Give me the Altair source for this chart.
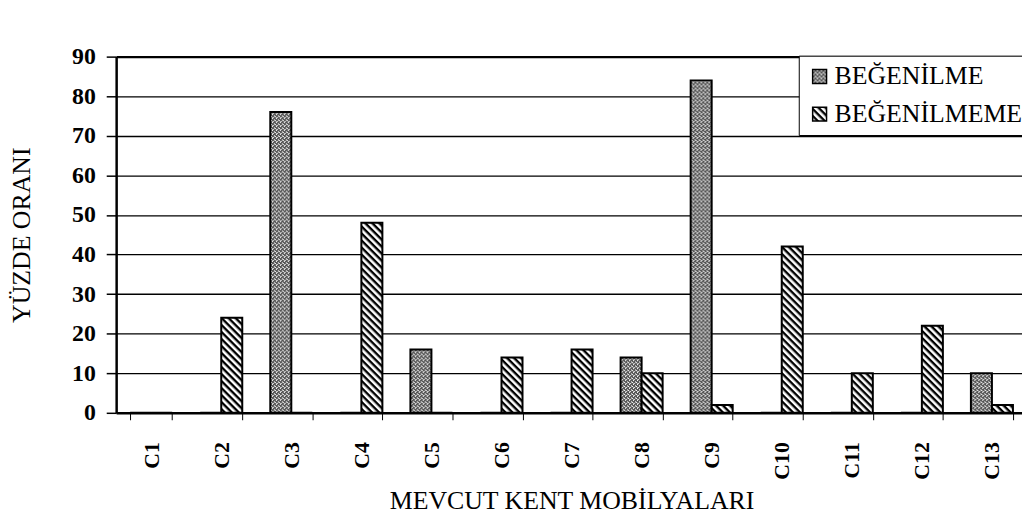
import altair as alt
import pandas as pd
import jinja2

try:
    from altair.utils.html import TEMPLATES as _TEMPLATES
    _BASE = _TEMPLATES["standard"]
except Exception:  # pragma: no cover
    from altair.utils.html import HTML_TEMPLATE as _BASE

# ---- data ----
categories = ["C1", "C2", "C3", "C4", "C5", "C6", "C7", "C8", "C9", "C10", "C11", "C12", "C13"]
begenilme = [0, 0, 76, 0, 16, 0, 0, 14, 84, 0, 0, 0, 10]
begenilmeme = [0, 24, 0, 48, 0, 14, 16, 10, 2, 42, 10, 22, 2]
series = ["BEĞENİLME", "BEĞENİLMEME"]
y_ticks = [0, 10, 20, 30, 40, 50, 60, 70, 80, 90]

rows = []
for c, a, b in zip(categories, begenilme, begenilmeme):
    rows.append({"kategori": c, "seri": series[0], "oran": a})
    rows.append({"kategori": c, "seri": series[1], "oran": b})
df = pd.DataFrame(rows)

FONT = "Liberation Serif"

chart = (
    alt.Chart(df)
    .mark_bar(stroke="black", strokeWidth=2)
    .encode(
        x=alt.X(
            "kategori:N",
            sort=categories,
            title="MEVCUT KENT MOBİLYALARI",
            scale=alt.Scale(paddingInner=0.4, paddingOuter=0.2, range=[0, 918]),
            axis=alt.Axis(
                labelAngle=-90,
                tickBand="extent",
                tickSize=7,
                tickWidth=1,
                tickColor="black",
                labelPadding=22,
                labelFont=FONT,
                labelFontSize=22,
                labelFontWeight="bold",
                labelColor="black",
                domainColor="black",
                domainWidth=2.5,
                titleFont=FONT,
                titleFontSize=26,
                titleFontWeight="normal",
                titleColor="black",
                titleBaseline="alphabetic",
                titlePadding=30,
                grid=False,
            ),
        ),
        xOffset=alt.XOffset("seri:N", sort=series),
        y=alt.Y(
            "oran:Q",
            title="YÜZDE ORANI",
            scale=alt.Scale(domain=[0, 90], nice=False),
            axis=alt.Axis(
                values=y_ticks,
                tickSize=10,
                tickWidth=1.5,
                tickColor="black",
                labelPadding=11,
                labelFont=FONT,
                labelFontSize=24,
                labelFontWeight="bold",
                labelColor="black",
                domainColor="black",
                domainWidth=2.5,
                grid=True,
                gridColor="black",
                gridWidth={"condition": {"test": "datum.value === 90", "value": 2.5}, "value": 1.3},
                titleFont=FONT,
                titleFontSize=26,
                titleFontWeight="normal",
                titleColor="black",
                titlePadding=37,
            ),
        ),
        fill=alt.Fill(
            "seri:N",
            sort=series,
            scale=alt.Scale(domain=series, range=["url(#stipple)", "url(#hatch)"]),
            legend=alt.Legend(
                title=None,
                orient="none",
                legendX=688,
                legendY=-1,
                direction="vertical",
                labelFont=FONT,
                labelFontSize=26,
                labelColor="black",
                labelLimit=500,
                labelOffset=2,
                symbolType="square",
                symbolSize=196,
                symbolStrokeColor="black",
                symbolStrokeWidth=1.5,
                strokeColor="black",
                fillColor="white",
                padding=8,
                rowPadding=12,
            ),
        ),
    )
    .properties(
        width=913,
        height=359,
        autosize=alt.AutoSizeParams(type="none"),
        padding={"left": 109, "top": 47, "right": 0, "bottom": 103},
        background="white",
    )
    .configure_view(stroke=None)
)

DEFS = """
<svg width="0" height="0" style="position:absolute;left:0;top:0" aria-hidden="true">
  <defs>
    <pattern id="hatch" patternUnits="userSpaceOnUse" width="5" height="5" patternTransform="rotate(45)">
      <rect width="5" height="5" fill="white"/>
      <rect width="5" height="2.4" fill="black"/>
    </pattern>
    <pattern id="stipple" patternUnits="userSpaceOnUse" width="4" height="4">
      <rect width="4" height="4" fill="#555555"/>
      <rect x="0" y="0" width="1" height="1" fill="#ffffff"/>
      <rect x="2" y="1" width="1" height="1" fill="#e0e0e0"/>
      <rect x="1" y="2" width="1" height="1" fill="#ffffff"/>
      <rect x="3" y="3" width="1" height="1" fill="#cccccc"/>
      <rect x="3" y="0" width="1" height="1" fill="#aaaaaa"/>
      <rect x="1" y="1" width="1" height="1" fill="#bbbbbb"/>
    </pattern>
  </defs>
</svg>
"""


class _PatternTemplate(jinja2.Template):
    def render(self, *args, **kwargs):
        html = _BASE.render(*args, **kwargs)
        if "<body>" in html:
            return html.replace("<body>", "<body>\n" + DEFS, 1)
        return DEFS + html


chart.save("out.html", embed_options={"renderer": "svg", "actions": False}, template=_PatternTemplate(""))
